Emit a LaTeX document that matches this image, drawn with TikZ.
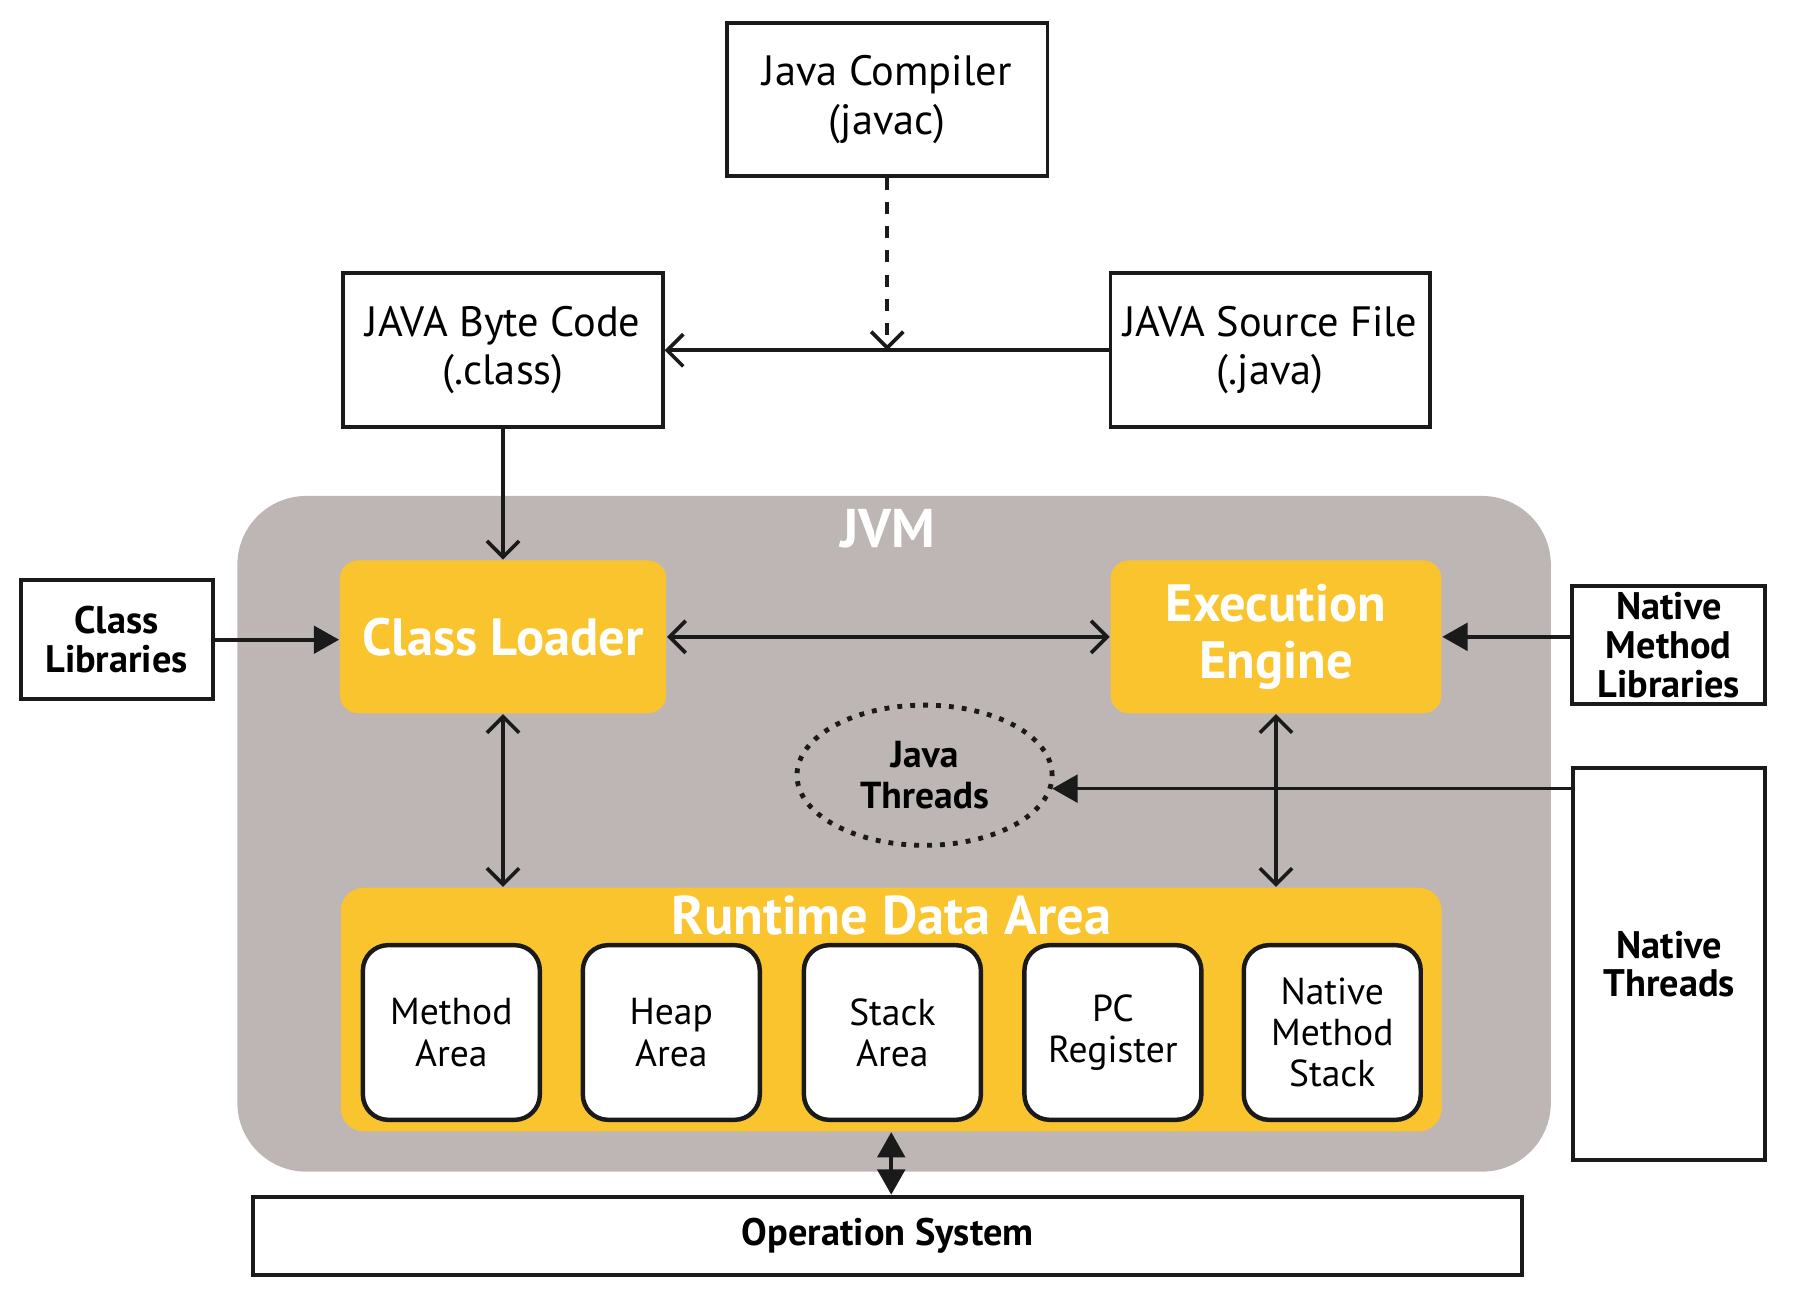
\documentclass[tikz,border=0pt]{standalone}
\usepackage{fontspec}
\setmainfont{PT Sans}
\usepackage{tikz}
\usetikzlibrary{arrows.meta,shapes.geometric}
\definecolor{jvmbg}{HTML}{BEB5B5}
\definecolor{gold}{HTML}{FAC42E}
\definecolor{ink}{HTML}{1A1A1A}
\tikzset{
  file/.style={draw=ink, line width=0.9pt, fill=white, align=center, inner sep=1pt, font=\fontsize{10.5}{12}\selectfont},
  lib/.style={draw=ink, line width=1pt, fill=white, align=center, inner sep=1pt, font=\bfseries\fontsize{9.5}{9.6}\selectfont},
  unit/.style={fill=gold, rounded corners=0.16cm, align=center, text=white, font=\bfseries\fontsize{13}{14}\selectfont},
  mem/.style={draw=ink, line width=1.1pt, fill=white, rounded corners=0.22cm, align=center, minimum width=1.54cm, minimum height=1.52cm, font=\fontsize{9.3}{10.2}\selectfont},
  thr/.style={ellipse, draw=ink, dotted, line width=1.2pt, align=center, minimum width=2.22cm, minimum height=1.22cm, font=\bfseries\fontsize{9.3}{10.2}\selectfont},
  ttl/.style={text=white, font=\bfseries\fontsize{13.5}{14}\selectfont},
  conn/.style={draw=ink, line width=0.9pt},
  arrto/.style={conn, -{Straight Barb[length=1.4mm,width=2.8mm]}},
  arrboth/.style={conn, {Straight Barb[length=1.4mm,width=2.8mm]}-{Straight Barb[length=1.4mm,width=2.8mm]}},
  arrfill/.style={conn, -{Triangle[length=2.2mm,width=2.4mm]}},
  arrfillboth/.style={conn, {Triangle[length=2.2mm,width=2.4mm]}-{Triangle[length=2.2mm,width=2.4mm]}},
}

\begin{document}
\begin{tikzpicture}[x=0.01cm,y=-0.01cm]
  \useasboundingbox (0,0) rectangle (1569,1134);

  % source -> byte code
  \node[file, minimum width=2.79cm, minimum height=1.33cm] (jc) at (772.5,86.5) {Java Compiler\\(javac)};
  \node[file, minimum width=2.78cm, minimum height=1.34cm] (bc) at (438,305) {JAVA Byte Code\\(.class)};
  \node[file, minimum width=2.78cm, minimum height=1.34cm] (src) at (1106,305) {JAVA Source File\\(.java)};

  % jvm
  \node[fill=jvmbg, rounded corners=0.6cm, minimum width=11.43cm, minimum height=5.88cm] (jvm) at (778.5,726) {};
  \node[ttl] (jvmt) at (773,460) {JVM};
  \node[unit, minimum width=2.84cm, minimum height=1.33cm] (cl) at (438,554.5) {Class Loader};
  \node[unit, minimum width=2.88cm, minimum height=1.33cm] (ee) at (1111,554.5) {Execution\\Engine};
  \node[thr] (jt) at (805,675) {Java\\Threads};

  \node[fill=gold, rounded corners=0.2cm, minimum width=9.58cm, minimum height=2.12cm] (rda) at (776,879) {};
  \node[ttl] (rdat) at (776,797) {Runtime Data Area};
  \foreach \x/\name/\txt in {393/ma/Method\\Area, 584.5/ha/Heap\\Area, 777/sa/Stack\\Area, 969/pc/PC\\Register, 1160/nms/Native\\Method\\Stack}{
    \node[mem] (\name) at (\x,899) {\txt};
  }

  % outside
  \node[lib, minimum width=1.67cm, minimum height=1.04cm] (clib) at (101.5,557) {Class\\Libraries};
  \node[lib, minimum width=1.68cm, minimum height=1.03cm] (nml) at (1453,561.5) {Native\\Method\\Libraries};
  \node[lib, minimum width=1.67cm, minimum height=3.41cm] (nt) at (1453.5,839.5) {Native\\Threads};
  \node[lib, minimum width=11.04cm, minimum height=0.68cm] (os) at (773,1076) {Operation System};

  % connectors
  \draw[arrto] (src.west) -- (bc.east);
  \coordinate (join) at (jc.south |- bc.east);
  \draw[arrto, dashed] (jc.south) -- (join);
  \draw[arrto] (bc.south) -- (cl.north);
  \draw[arrfill] (clib.east) -- (clib.east -| cl.west);
  \draw[arrfill] (nml.west |- ee.east) -- (ee.east);
  \draw[arrboth] (cl.east) -- (ee.west);
  \draw[arrboth] (cl.south) -- (cl.south |- rda.north);
  \draw[arrboth] (ee.south) -- (ee.south |- rda.north);
  \draw[arrfill] (nt.west |- jt.-6.3) -- (jt.-6.3);
  \draw[arrfillboth] (rda.south) -- (rda.south |- os.north);
\end{tikzpicture}
\end{document}
